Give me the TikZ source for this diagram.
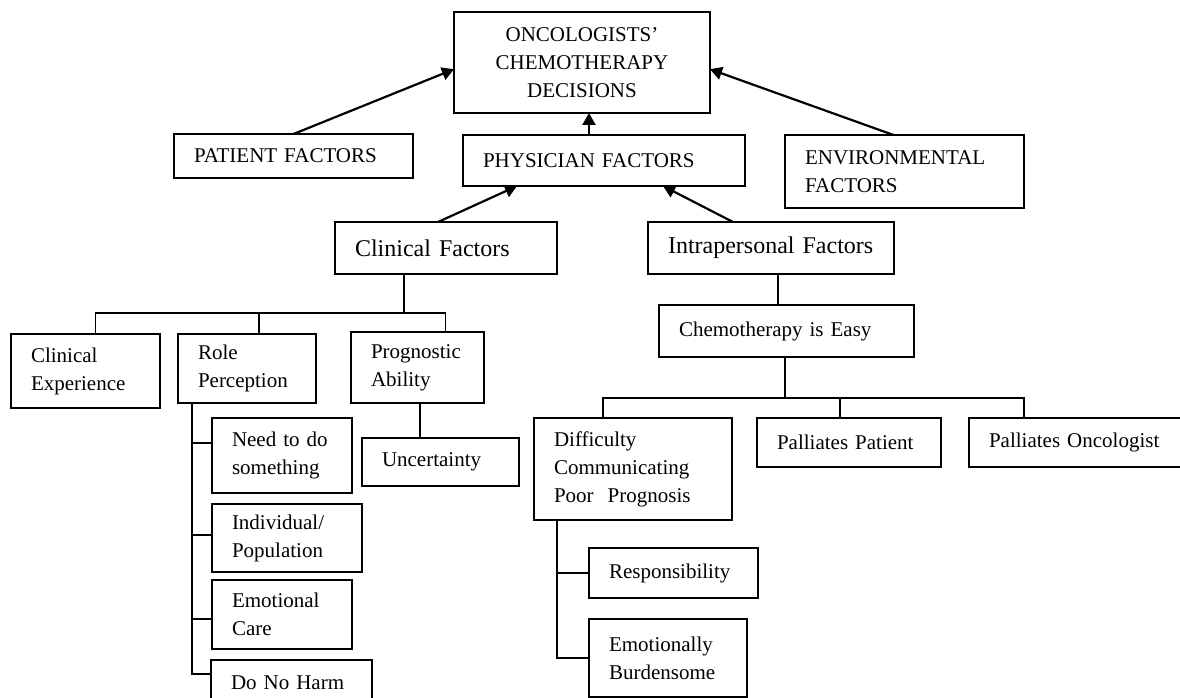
\documentclass[tikz,border=0pt]{standalone}
\usepackage{fontspec}
\setmainfont{Liberation Serif}
\usetikzlibrary{arrows.meta}
\tikzset{
  factor/.style={draw,line width=1.5pt,anchor=north west,align=left,
    inner xsep=20pt,inner ysep=0pt,outer sep=0pt,
    font=\fontsize{21}{28}\selectfont},
  bigfactor/.style={factor,font=\fontsize{24}{28}\selectfont},
  treeline/.style={line width=1.5pt},
  push/.style={->,line width=2.2pt}
}
\begin{document}
\begin{tikzpicture}[x=1pt,y=-1pt,>={Triangle[length=12pt,width=13pt]}]
\useasboundingbox (0,0) rectangle (1180,698);
% upper level
\node[factor,align=center,text width=216pt,minimum height=101pt] (decision) at (454,12) {ONCOLOGISTS'\\CHEMOTHERAPY\\DECISIONS};
\node[factor,text width=199pt,minimum height=44pt] (patient) at (174,134) {PATIENT FACTORS};
\node[factor,text width=242pt,minimum height=51pt] (physician) at (463,135) {PHYSICIAN FACTORS};
\node[factor,text width=199pt,minimum height=73pt] (environment) at (785,135) {ENVIRONMENTAL\\FACTORS};
\node[bigfactor,text width=182pt,minimum height=52pt] (clinical) at (335,222) {Clinical Factors};
\node[bigfactor,text width=206pt,minimum height=52pt] (intra) at (648,222) {\mbox{Intrapersonal Factors}};
\draw[push] (patient.north) -- (decision.183);
\draw[push] ([xshift=-11pt]environment.north) -- (decision.357);
\draw[push] ([xshift=-15pt]physician.north) -- ([xshift=7pt]decision.south);
\draw[push] ([xshift=-8pt]clinical.north) -- ([xshift=54pt]physician.south west);
\draw[push] ([xshift=-38pt]intra.north) -- ([xshift=-82pt]physician.south east);
% clinical factors
\node[factor,text width=109pt,minimum height=74pt] (clinexp) at (11,334) {Clinical\\Experience};
\node[factor,text width=98pt,minimum height=69pt] (role) at (178,334) {Role\\Perception};
\node[factor,text width=93pt,minimum height=71pt] (prog) at (351,332) {Prognostic\\Ability};
\node[factor,text width=100pt,minimum height=75pt] (need) at (212,418) {Need to do\\something};
\node[factor,text width=110pt,minimum height=68pt] (indiv) at (212,504) {Individual/\\Population};
\node[factor,text width=100pt,minimum height=69pt] (emo) at (212,580) {Emotional\\Care};
\node[factor,text width=121pt,minimum height=46pt] (harm) at (211,660) {Do No Harm};
\node[factor,text width=117pt,minimum height=48pt] (uncert) at (362,438) {Uncertainty};
\coordinate (cbus) at (404,313);
\coordinate (rbus) at (259,313);
\coordinate (px) at (420,0);
\draw[treeline] (clinical.south -| cbus) -- (cbus);
\draw[treeline] ([xshift=10pt]clinexp.north) |- (cbus) -| ([xshift=28pt]prog.north);
\draw[treeline] (rbus) -- (role.north -| rbus);
\draw[treeline] (prog.south -| px) -- (uncert.north -| px);
\coordinate (nb) at (192,443);
\coordinate (ib) at (192,535);
\coordinate (eb) at (192,619);
\coordinate (hb) at (192,674);
\draw[treeline] (role.south -| hb) -- (hb) -- (harm.west |- hb);
\draw[treeline] (nb) -- (need.west |- nb);
\draw[treeline] (ib) -- (indiv.west |- ib);
\draw[treeline] (eb) -- (emo.west |- eb);
% intrapersonal factors
\node[factor,text width=215pt,minimum height=52pt] (easy) at (659,305) {Chemotherapy is Easy};
\node[factor,text width=158pt,minimum height=102pt] (difficult) at (534,418) {Difficulty\\Communicating\\Poor~ Prognosis};
\node[factor,text width=144pt,minimum height=49pt] (pallpat) at (757,418) {Palliates Patient};
\node[factor,text width=190pt,minimum height=49pt] (pallonc) at (969,418) {\mbox{Palliates Oncologist}};
\node[factor,text width=129pt,minimum height=50pt] (resp) at (589,548) {Responsibility};
\node[factor,text width=118pt,minimum height=78pt] (burden) at (589,619) {Emotionally\\Burdensome};
\coordinate (ix) at (778,0);
\coordinate (ex) at (785,0);
\coordinate (d1) at (603,398);
\coordinate (d2) at (840,398);
\coordinate (d3) at (1024,398);
\coordinate (dt) at (557,0);
\draw[treeline] (intra.south -| ix) -- (easy.north -| ix);
\draw[treeline] (easy.south -| ex) -- (d1 -| ex);
\draw[treeline] (difficult.north -| d1) -- (d1) -- (d3) -- (pallonc.north -| d3);
\draw[treeline] (d2) -- (pallpat.north -| d2);
\draw[treeline] (difficult.south -| dt) |- (burden.west);
\draw[treeline] (resp.west) -- (resp.west -| dt);
\end{tikzpicture}
\end{document}
